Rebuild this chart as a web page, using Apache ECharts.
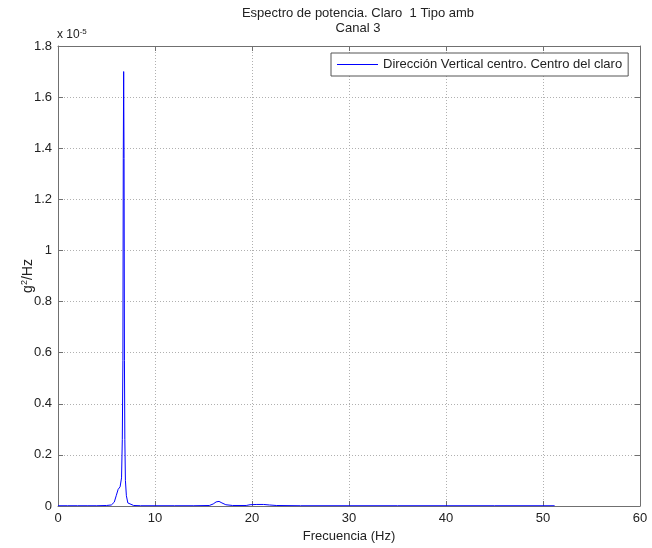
<!DOCTYPE html>
<html><head><meta charset="utf-8">
<script src="https://cdn.jsdelivr.net/npm/echarts@6/dist/echarts.min.js"></script>
<style>html,body{margin:0;padding:0;background:#fff}#c{width:652px;height:548px}</style>
</head><body><div id="c"></div>
<script>
var titleLines = ['Espectro de potencia. Claro  1 Tipo amb', 'Canal 3'];
var seriesName = 'Dirección Vertical centro. Centro del claro';
var xLabel = 'Frecuencia (Hz)';
// frequency (Hz)
var freq = [0, 1, 2, 3, 4, 5, 5.5, 5.8, 6.0, 6.2, 6.4, 6.55, 6.63, 6.69, 6.73, 6.77, 6.81, 6.85, 6.89, 6.95, 7.05, 7.2, 7.4, 7.8, 8.5, 10, 12, 14, 15.6, 16.0, 16.3, 16.6, 16.9, 17.3, 18, 19.4, 19.8, 20.5, 21.2, 21.8, 22.5, 25, 30, 35, 40, 45, 50, 51.2];
// PSD values (x 10^-5 g^2/Hz)
var psd  = [0.001, 0.001, 0.001, 0.001, 0.001, 0.002, 0.004, 0.015, 0.04, 0.065, 0.075, 0.11, 0.26, 0.57, 1.36, 1.70, 1.36, 0.57, 0.26, 0.1, 0.04, 0.012, 0.005, 0.002, 0.001, 0.001, 0.001, 0.001, 0.002, 0.008, 0.016, 0.018, 0.012, 0.005, 0.002, 0.002, 0.005, 0.006, 0.006, 0.004, 0.002, 0.001, 0.001, 0.001, 0.001, 0.001, 0.001, 0.001];
var xTicks = [0, 10, 20, 30, 40, 50, 60];
var yTicks = [0, 0.2, 0.4, 0.6, 0.8, 1, 1.2, 1.4, 1.6, 1.8];

var pts = freq.map(function (f, i) { return [f, psd[i]]; });
var FONT = 'Liberation Sans';
var axisCol = '#707070';
var chart = echarts.init(document.getElementById('c'));
chart.setOption({
  animation: false,
  backgroundColor: '#fff',
  textStyle: {fontFamily: FONT},
  title: {
    text: titleLines.join('\n'), left: 353, top: 1, textAlign: 'center',
    textStyle: {fontFamily: FONT, fontSize: 13, fontWeight: 'normal', color: '#222', lineHeight: 15}
  },
  legend: {
    data: [{name: seriesName, icon: 'rect'}], left: 331, top: 53, orient: 'vertical',
    backgroundColor: '#fff', borderColor: '#555', borderWidth: 1, padding: [5, 6, 5, 6],
    itemWidth: 41, itemHeight: 1, itemGap: 0,
    textStyle: {fontFamily: FONT, fontSize: 13, color: '#222', padding: [0, 0, 0, 0]}
  },
  grid: {left: 58, right: 12, top: 46, bottom: 39, containLabel: false},
  xAxis: [{
    type: 'value', min: 0, max: 60, interval: 10, position: 'bottom',
    name: xLabel, nameLocation: 'middle', nameGap: 24,
    nameTextStyle: {fontFamily: FONT, fontSize: 13, color: '#222'},
    axisLine: {show: true, onZero: false, lineStyle: {color: axisCol}},
    axisTick: {show: true, inside: true, length: 5, lineStyle: {color: axisCol}},
    axisLabel: {fontFamily: FONT, fontSize: 13, color: '#222', margin: 6,
      formatter: function (v) { return xTicks.indexOf(v) >= 0 ? String(v) : ''; }},
    splitLine: {show: true, lineStyle: {color: '#b0b0b0', type: [1, 2], width: 1}}
  }, {
    type: 'value', min: 0, max: 60, interval: 10, position: 'top',
    axisLine: {show: true, onZero: false, lineStyle: {color: axisCol}},
    axisTick: {show: true, inside: true, length: 5, lineStyle: {color: axisCol}},
    axisLabel: {show: false}, splitLine: {show: false}
  }],
  yAxis: [{
    type: 'value', min: 0, max: 1.8, interval: 0.2, position: 'left',
    name: '{b|g}{s|2}{b|/Hz}', nameLocation: 'middle', nameGap: 21, nameRotate: 90,
    nameMoveOverlap: false,
    nameTextStyle: {rich: {
      b: {fontFamily: FONT, fontSize: 14, color: '#222'},
      s: {fontFamily: FONT, fontSize: 9, color: '#222', verticalAlign: 'top', padding: [0, 0, 8, 0]}
    }},
    axisLine: {show: true, onZero: false, lineStyle: {color: axisCol}},
    axisTick: {show: true, inside: true, length: 5, lineStyle: {color: axisCol}},
    axisLabel: {fontFamily: FONT, fontSize: 13, color: '#222', margin: 6,
      formatter: function (v) { return String(Math.round(v * 10) / 10); }},
    splitLine: {show: true, lineStyle: {color: '#b0b0b0', type: [1, 2], width: 1}}
  }, {
    type: 'value', min: 0, max: 1.8, interval: 0.2, position: 'right',
    axisLine: {show: true, onZero: false, lineStyle: {color: axisCol}},
    axisTick: {show: true, inside: true, length: 5, lineStyle: {color: axisCol}},
    axisLabel: {show: false}, splitLine: {show: false}
  }],
  graphic: [{
    type: 'text', left: 57, top: 28,
    style: {text: '{b|x 10}{s|-5}', rich: {
      b: {fontFamily: FONT, fontSize: 12, fill: '#222'},
      s: {fontFamily: FONT, fontSize: 8, fill: '#222', verticalAlign: 'top', padding: [0, 0, 6, 0]}
    }}
  }],
  series: [{
    name: seriesName, type: 'line', data: pts, xAxisIndex: 0, yAxisIndex: 0,
    showSymbol: false, symbol: 'none', smooth: false,
    lineStyle: {color: '#0000ff', width: 1}, itemStyle: {color: '#0000ff'}
  }]
});
</script></body></html>
